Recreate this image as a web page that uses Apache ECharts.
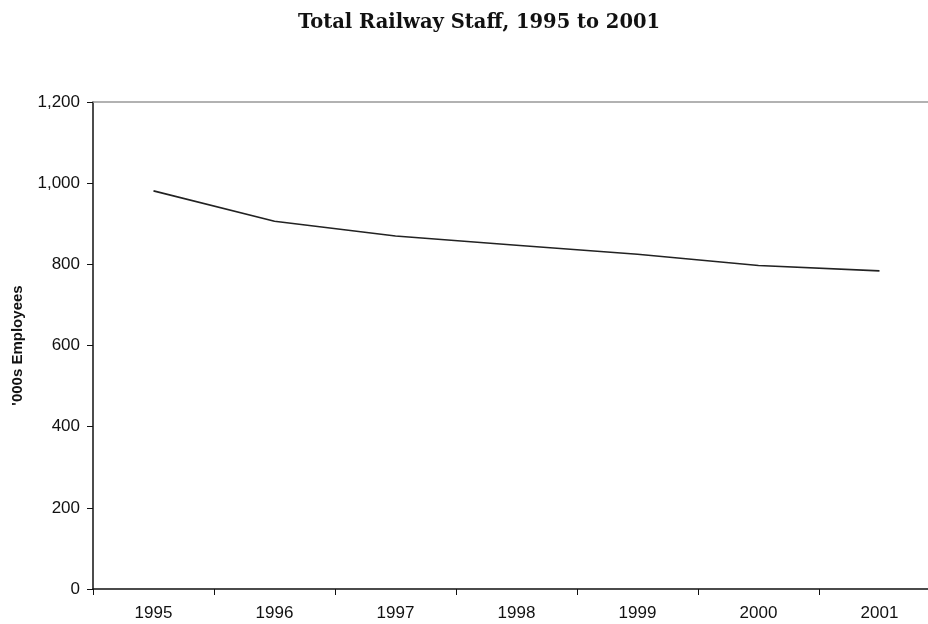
<!DOCTYPE html>
<html>
<head>
<meta charset="utf-8">
<script src="https://cdn.jsdelivr.net/npm/echarts@6/dist/echarts.min.js"></script>
<style>
html,body{margin:0;padding:0;background:#fff;overflow:hidden;}
#chart{width:940px;height:624px;}
</style>
</head>
<body>
<div id="chart"></div>
<script>
const categories = ['1995', '1996', '1997', '1998', '1999', '2000', '2001'];
const staffValues = [981, 906, 870, 847, 825, 797, 784];
const chartTitle = 'Total Railway Staff, 1995 to 2001';
const yAxisName = "'000s Employees";

const chart = echarts.init(document.getElementById('chart'), null, {renderer: 'canvas'});
chart.setOption({
  backgroundColor: '#ffffff',
  animation: false,
  title: {
    text: chartTitle,
    left: 474,
    textAlign: 'center',
    top: 8,
    textStyle: {fontFamily: 'DejaVu Serif', fontWeight: 'bold', fontSize: 19.5, color: '#111'}
  },
  grid: {left: 93, top: 102, right: 0, bottom: 35, containLabel: false},
  xAxis: [{
    type: 'category',
    data: categories,
    boundaryGap: true,
    axisLine: {lineStyle: {color: '#111', width: 1.5}},
    axisTick: {show: true, length: 6, alignWithLabel: false, lineStyle: {color: '#111'}},
    axisLabel: {fontFamily: 'Liberation Sans', fontSize: 17, color: '#111', margin: 16},
    splitLine: {show: false}
  }, {
    type: 'category',
    data: categories,
    position: 'top',
    axisLine: {lineStyle: {color: '#999', width: 1.5}},
    axisTick: {show: false},
    axisLabel: {show: false},
    splitLine: {show: false}
  }],
  yAxis: {
    type: 'value',
    min: 0,
    max: 1200,
    interval: 200,
    name: yAxisName,
    nameLocation: 'middle',
    nameRotate: 90,
    nameGap: 68,
    nameTextStyle: {fontFamily: 'Liberation Sans', fontWeight: 'bold', fontSize: 15, color: '#111'},
    axisLine: {show: true, lineStyle: {color: '#111', width: 1.5}},
    axisTick: {show: true, length: 6, lineStyle: {color: '#111'}},
    axisLabel: {
      fontFamily: 'Liberation Sans', fontSize: 17, color: '#111', margin: 13,
      formatter: v => v.toLocaleString('en-US')
    },
    splitLine: {show: false}
  },
  series: [{
    type: 'line',
    data: staffValues,
    symbol: 'none',
    lineStyle: {color: '#222', width: 1.6}
  }]
});
</script>
</body>
</html>
